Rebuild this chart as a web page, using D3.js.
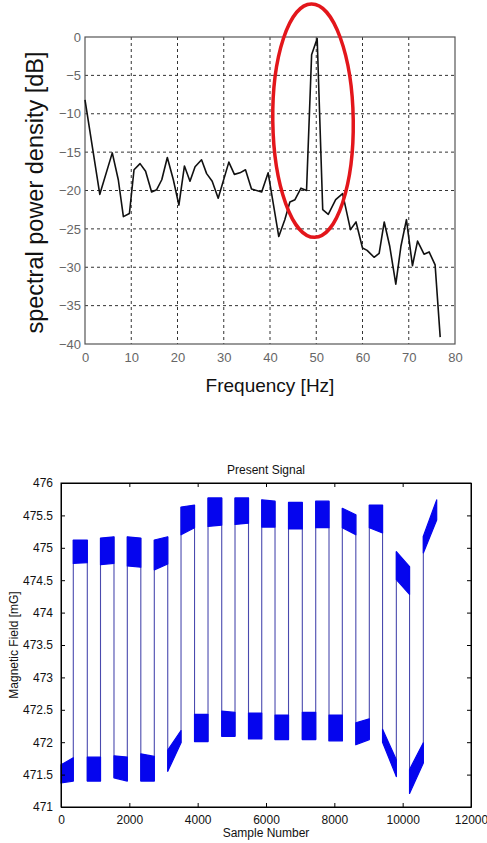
<!DOCTYPE html>
<html><head><meta charset="utf-8">
<script src="https://cdn.jsdelivr.net/npm/d3@7"></script>
<style>html,body{margin:0;padding:0;background:#fff;}svg{display:block;font-family:"Liberation Sans",Arial,sans-serif;}</style>
</head><body>
<svg id="c" width="487" height="843"></svg>
<script>
// ---------- Top chart data: spectral power density ----------
const freqHz = [0, 3.2, 5.9, 7.2, 8.3, 9.6, 10.6, 11.9, 13.1, 14.4, 15.5, 16.6, 17.8, 19.1, 20.3, 21.5, 22.7, 23.8, 25.2, 26.3, 27.5, 28.8, 31.1, 32.3, 33.5, 34.7, 36.0, 38.2, 39.6, 41.9, 43.2, 44.3, 45.4, 46.7, 47.9, 49.0, 50.2, 51.4, 52.6, 54.2, 55.7, 57.4, 58.6, 60.0, 61.0, 62.5, 63.6, 64.7, 65.9, 67.2, 68.3, 69.5, 70.8, 71.9, 73.3, 74.4, 75.7, 76.8];
const psdDb = [-8.2, -20.5, -15.1, -18.6, -23.4, -23.0, -17.3, -16.5, -17.5, -20.2, -19.9, -18.6, -15.7, -18.6, -21.9, -16.8, -18.8, -16.9, -16.0, -17.8, -18.8, -21.0, -16.3, -17.9, -17.7, -17.3, -19.8, -20.2, -17.7, -26.0, -23.8, -21.5, -21.2, -19.7, -20.0, -2.3, -0.2, -22.5, -23.1, -21.2, -20.4, -25.1, -24.1, -27.5, -27.8, -28.7, -28.2, -24.1, -27.3, -32.2, -27.3, -23.8, -29.8, -26.6, -28.3, -28.0, -29.7, -39.1];
const topXTicks = [0, 10, 20, 30, 40, 50, 60, 70, 80];
const topYTicks = [0, -5, -10, -15, -20, -25, -30, -35, -40];
// highlight ellipse (data units): centre Hz, centre dB, half-width Hz, half-height dB
const ellipseAnno = [49.3, -10.9, 8.7, 15.2];

// ---------- Bottom chart data: present signal ----------
// segment boundaries (sample numbers); segments alternate low / high starting low
const segBounds = [0, 360, 770, 1156, 1551, 1941, 2336, 2731, 3124, 3513, 3908, 4303, 4704, 5093, 5488, 5875, 6264, 6659, 7063, 7455, 7844, 8234, 8629, 9024, 9411, 9815, 10201, 10605, 10996];
// band envelope per segment: top at start, top at end, bottom at start, bottom at end (mG)
const bandTopStart = [471.65, 475.12, 471.77, 475.15, 471.79, 475.17, 471.82, 475.12, 471.88, 475.63, 472.43, 475.77, 472.48, 475.77, 472.45, 475.74, 472.42, 475.70, 472.46, 475.72, 472.42, 475.61, 472.30, 475.66, 472.20, 474.94, 471.58, 475.18];
const bandTopEnd   = [471.76, 475.12, 471.77, 475.17, 471.77, 475.15, 471.78, 475.17, 472.18, 475.66, 472.43, 475.77, 472.46, 475.77, 472.45, 475.72, 472.42, 475.70, 472.46, 475.72, 472.42, 475.51, 472.36, 475.66, 471.73, 474.71, 471.99, 475.74];
const bandBotStart = [471.37, 474.76, 471.40, 474.74, 471.45, 474.72, 471.40, 474.66, 471.55, 475.20, 472.01, 475.33, 472.09, 475.36, 472.05, 475.32, 472.04, 475.29, 472.04, 475.31, 472.02, 475.31, 471.96, 475.31, 472.00, 474.51, 471.21, 474.92];
const bandBotEnd   = [471.40, 474.77, 471.40, 474.76, 471.40, 474.70, 471.40, 474.75, 471.99, 475.31, 472.01, 475.35, 472.09, 475.38, 472.05, 475.32, 472.04, 475.29, 472.04, 475.31, 472.02, 475.20, 472.04, 475.23, 471.47, 474.28, 471.68, 475.43];
const botXTicks = [0, 2000, 4000, 6000, 8000, 10000, 12000];
const botYTicks = [471, 471.5, 472, 472.5, 473, 473.5, 474, 474.5, 475, 475.5, 476];

const svg = d3.select("#c");

// ================= TOP CHART =================
(function(){
  const L = 85, R = 455, T = 37, B = 344;
  const x = d3.scaleLinear().domain([0, 80]).range([L, R]);
  const y = d3.scaleLinear().domain([-40, 0]).range([B, T]);
  const g = svg.append("g");
  // grid
  g.selectAll(".gx").data(topXTicks.filter(d => d > 0 && d < 80)).enter().append("line")
    .attr("x1", d => x(d)).attr("x2", d => x(d)).attr("y1", T).attr("y2", B)
    .attr("stroke", "#333").attr("stroke-width", 1).attr("stroke-dasharray", "3,3");
  g.selectAll(".gy").data(topYTicks.filter(d => d > -40 && d < 0)).enter().append("line")
    .attr("y1", d => y(d)).attr("y2", d => y(d)).attr("x1", L).attr("x2", R)
    .attr("stroke", "#333").attr("stroke-width", 1).attr("stroke-dasharray", "3,3");
  // box
  g.append("rect").attr("x", L).attr("y", T).attr("width", R - L).attr("height", B - T)
    .attr("fill", "none").attr("stroke", "#555").attr("stroke-width", 1.2);
  // axes labels via d3 axes
  const ax = d3.axisBottom(x).tickValues(topXTicks).tickSize(0).tickPadding(9);
  const gxA = g.append("g").attr("transform", `translate(0,${B})`).call(ax);
  gxA.select(".domain").remove();
  gxA.selectAll("text").attr("font-size", 13).attr("fill", "#666").attr("font-family", "Liberation Sans, Arial, sans-serif");
  const ay = d3.axisLeft(y).tickValues(topYTicks).tickSize(0).tickPadding(4);
  const gyA = g.append("g").attr("transform", `translate(${L},0)`).call(ay);
  gyA.select(".domain").remove();
  gyA.selectAll("text").attr("font-size", 13).attr("fill", "#666").attr("font-family", "Liberation Sans, Arial, sans-serif");
  // line
  const pts = freqHz.map((f, i) => [f, psdDb[i]]);
  g.append("path").datum(pts)
    .attr("d", d3.line().x(d => x(d[0])).y(d => y(d[1])))
    .attr("fill", "none").attr("stroke", "#111").attr("stroke-width", 1.6).attr("stroke-linejoin", "round");
  // titles
  g.append("text").attr("x", 270).attr("y", 392).attr("text-anchor", "middle")
    .attr("font-size", 19).attr("fill", "#111").text("Frequency [Hz]");
  g.append("text").attr("transform", `translate(43,${(T + B) / 2 + 2}) rotate(-90)`).attr("text-anchor", "middle")
    .attr("font-size", 23.5).attr("fill", "#111").text("spectral power density [dB]");
  // ellipse
  const [ecx, ecy, erx, ery] = ellipseAnno;
  const cx = x(ecx), cy = y(ecy), rx = x(ecx + erx) - x(ecx), ry = y(ecy - ery) - y(ecy);
  g.append("ellipse").attr("cx", cx).attr("cy", cy).attr("rx", rx).attr("ry", ry)
    .attr("transform", `rotate(-0.8,${cx},${cy})`)
    .attr("fill", "none").attr("stroke", "#e3161b").attr("stroke-width", 3.5);
})();

// ================= BOTTOM CHART =================
(function(){
  const L = 61, R = 471, T = 483, B = 807;
  const x = d3.scaleLinear().domain([0, 12000]).range([L, R]);
  const y = d3.scaleLinear().domain([471, 476]).range([B, T]);
  const g = svg.append("g");
  // transitions
  const trans = [];
  for (let i = 1; i < segBounds.length - 1; i++) {
    const vals = [bandTopEnd[i-1], bandBotEnd[i-1], bandTopStart[i], bandBotStart[i]];
    trans.push({s: segBounds[i], lo: d3.min(vals), hi: d3.max(vals)});
  }
  g.selectAll(".tr").data(trans).enter().append("line")
    .attr("x1", d => x(d.s)).attr("x2", d => x(d.s))
    .attr("y1", d => y(d.lo)).attr("y2", d => y(d.hi))
    .attr("stroke", "#2a2aa0").attr("stroke-width", 1.1).attr("stroke-opacity", 0.85);
  // bands
  const segs = d3.range(segBounds.length - 1).map(i => ({
    s0: segBounds[i], s1: segBounds[i+1],
    t0: bandTopStart[i], t1: bandTopEnd[i], b0: bandBotStart[i], b1: bandBotEnd[i]
  }));
  g.selectAll(".band").data(segs).enter().append("path")
    .attr("d", d => {
      const p = d3.path();
      p.moveTo(x(d.s0), y(d.t0)); p.lineTo(x(d.s1), y(d.t1));
      p.lineTo(x(d.s1), y(d.b1)); p.lineTo(x(d.s0), y(d.b0)); p.closePath();
      return p.toString();
    })
    .attr("fill", "#0505ee").attr("stroke", "#0505ee").attr("stroke-width", 1.2).attr("stroke-linejoin", "round");
  // box + ticks
  g.append("rect").attr("x", L).attr("y", T).attr("width", R - L).attr("height", B - T)
    .attr("fill", "none").attr("stroke", "#000").attr("stroke-width", 1);
  const font = "Liberation Sans, Arial, sans-serif";
  const axB = g.append("g").attr("transform", `translate(0,${B})`)
    .call(d3.axisBottom(x).tickValues(botXTicks).tickSizeInner(-4).tickSizeOuter(0).tickPadding(8).tickFormat(d => String(d)));
  const axT = g.append("g").attr("transform", `translate(0,${T})`)
    .call(d3.axisTop(x).tickValues(botXTicks).tickSizeInner(-4).tickSizeOuter(0).tickFormat(""));
  const axL = g.append("g").attr("transform", `translate(${L},0)`)
    .call(d3.axisLeft(y).tickValues(botYTicks).tickSizeInner(-4).tickSizeOuter(0).tickPadding(8).tickFormat(d => String(d)));
  const axR = g.append("g").attr("transform", `translate(${R},0)`)
    .call(d3.axisRight(y).tickValues(botYTicks).tickSizeInner(-4).tickSizeOuter(0).tickFormat(""));
  [axB, axT, axL, axR].forEach(a => {
    a.select(".domain").attr("stroke", "#000");
    a.selectAll("line").attr("stroke", "#000");
    a.selectAll("text").attr("font-size", 12).attr("fill", "#111").attr("font-family", font);
  });
  g.append("text").attr("x", (L + R) / 2).attr("y", 474).attr("text-anchor", "middle")
    .attr("font-size", 12).attr("fill", "#111").text("Present Signal");
  g.append("text").attr("x", (L + R) / 2).attr("y", 837).attr("text-anchor", "middle")
    .attr("font-size", 12).attr("fill", "#111").text("Sample Number");
  g.append("text").attr("transform", `translate(18,${(T + B) / 2}) rotate(-90)`).attr("text-anchor", "middle")
    .attr("font-size", 12).attr("fill", "#111").text("Magnetic Field [mG]");
})();
</script>
</body></html>
